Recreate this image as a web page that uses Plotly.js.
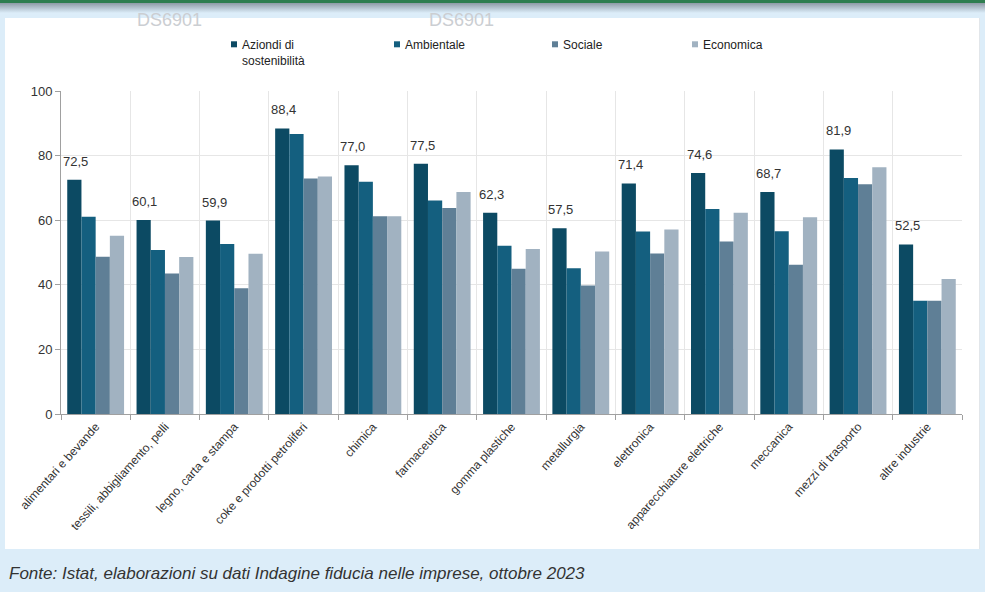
<!DOCTYPE html>
<html>
<head>
<meta charset="utf-8">
<script src="https://cdn.plot.ly/plotly-3.0.1.min.js"></script>
<style>
  html, body { margin:0; padding:0; width:985px; height:592px; overflow:hidden; background:#dcedf9; }
  #topbar { position:absolute; left:0; top:0; width:985px; height:3px; background:#2e7d4f; }
  #shadow { position:absolute; left:0; top:3px; width:985px; height:10px;
            background:linear-gradient(#8e9aa6, rgba(220,237,249,0)); }
  #panel { position:absolute; left:5px; top:18px; width:974px; height:531px; background:#ffffff;
           border-right:1px solid #e2e6ea; }
  #chart { position:absolute; left:0; top:0; width:985px; height:592px; }
</style>
</head>
<body>
<div id="topbar"></div>
<div id="shadow"></div>
<div id="panel"></div>
<div id="chart"></div>
<script>
// ---- data ----
const categories = [
  "alimentari e bevande",
  "tessili, abbigliamento, pelli",
  "legno, carta e stampa",
  "coke e prodotti petroliferi",
  "chimica",
  "farmaceutica",
  "gomma plastiche",
  "metallurgia",
  "elettronica",
  "apparecchiature elettriche",
  "meccanica",
  "mezzi di trasporto",
  "altre industrie"
];
const seriesNames = ["Aziondi di<br>sostenibilità", "Ambientale", "Sociale", "Economica"];
const aziende    = [72.5, 60.1, 59.9, 88.4, 77.0, 77.5, 62.3, 57.5, 71.4, 74.6, 68.7, 81.9, 52.5];
const ambientale = [61.1, 50.8, 52.6, 86.7, 71.9, 66.1, 52.1, 45.1, 56.5, 63.5, 56.6, 73.1, 35.1];
const sociale    = [48.7, 43.5, 38.9, 72.9, 61.2, 63.8, 45.0, 39.8, 49.7, 53.4, 46.2, 71.1, 35.1];
const economica  = [55.2, 48.6, 49.6, 73.5, 61.2, 68.7, 51.1, 50.3, 57.1, 62.3, 60.9, 76.4, 41.8];
const yTicks = [0, 20, 40, 60, 80, 100];
const watermark = "DS6901";
const sourceNote = "Fonte: Istat, elaborazioni su dati Indagine fiducia nelle imprese, ottobre 2023";

// ---- style ----
const colors = ["#0c4a63", "#145f7f", "#5f7f96", "#a1b2c1"];
const FONT = "Liberation Sans Narrow, Arial Narrow, Liberation Sans, Arial, sans-serif";
const M = {l:61, r:23, t:91, b:178};
const W = 985, H = 592;
const PW = W - M.l - M.r, PH = H - M.t - M.b;
const px = x => (x - M.l) / PW;
const py = y => (H - M.b - y) / PH;

const values = [aziende, ambientale, sociale, economica];
const legendIds = ["legend", "legend2", "legend3", "legend4"];
const legendX = [234, 397, 555, 695];

const traces = values.map((v, i) => ({
  type: "bar",
  name: seriesNames[i],
  x: categories,
  y: v,
  marker: {color: colors[i]},
  legend: legendIds[i],
  hoverinfo: "x+y+name"
}));

const fmt = v => v.toFixed(1).replace(".", ",");

const annotations = categories.map((c, i) => ({
  x: c, y: aziende[i], xref: "x", yref: "y",
  text: fmt(aziende[i]),
  showarrow: false,
  xanchor: "center", yanchor: "bottom",
  xshift: -20, yshift: 9,
  font: {family: FONT, size: 13, color: "#333333"}
}));

annotations.push({
  xref: "paper", yref: "paper", x: px(7), y: py(573),
  xanchor: "left", yanchor: "middle", showarrow: false,
  text: "<i>" + sourceNote + "</i>",
  font: {family: "Liberation Sans, Arial, sans-serif", size: 17, color: "#333333"}
});
[135, 427].forEach(x0 => annotations.push({
  xref: "paper", yref: "paper", x: px(x0), y: py(20),
  xanchor: "left", yanchor: "middle", showarrow: false,
  text: watermark,
  font: {family: "Liberation Sans, Arial, sans-serif", size: 18, color: "#cbced2"}
}));

const layout = {
  width: W, height: H,
  margin: M,
  paper_bgcolor: "rgba(0,0,0,0)",
  plot_bgcolor: "rgba(0,0,0,0)",
  barmode: "group",
  bargap: 0.18,
  bargroupgap: 0,
  separators: ",.",
  font: {family: FONT, size: 12, color: "#333333"},
  xaxis: {
    type: "category",
    tickson: "boundaries",
    ticks: "outside", ticklen: 5, tickcolor: "#a0a0a0",
    showline: true, linecolor: "#a0a0a0", linewidth: 1,
    showgrid: true, gridcolor: "#e6e6e6",
    tickangle: -48,
    tickfont: {family: FONT, size: 12, color: "#333333"}
  },
  yaxis: {
    range: [0, 100],
    tickvals: yTicks,
    ticks: "outside", ticklen: 5, tickcolor: "#a0a0a0",
    showline: true, linecolor: "#a0a0a0", linewidth: 1,
    showgrid: true, gridcolor: "#e6e6e6",
    zeroline: false,
    tickfont: {family: FONT, size: 13, color: "#333333"}
  },
  annotations: annotations,
  showlegend: true
};
legendIds.forEach((id, i) => {
  layout[id] = {
    x: px(legendX[i] - 32), y: py(30),
    xanchor: "left", yanchor: "top",
    orientation: "v",
    valign: "top",
    bgcolor: "rgba(0,0,0,0)",
    font: {family: FONT, size: 12, color: "#222222"},
    itemclick: false, itemdoubleclick: false
  };
});

Plotly.newPlot("chart", traces, layout, {displayModeBar: false, staticPlot: true}).then(gd => {
  gd.querySelectorAll(".legendpoints path").forEach(p => {
    p.setAttribute("d", "M3,3H-3V-3H3Z");
    p.setAttribute("transform", (p.getAttribute("transform") || "") + " translate(12,0)");
  });
});
</script>
</body>
</html>
